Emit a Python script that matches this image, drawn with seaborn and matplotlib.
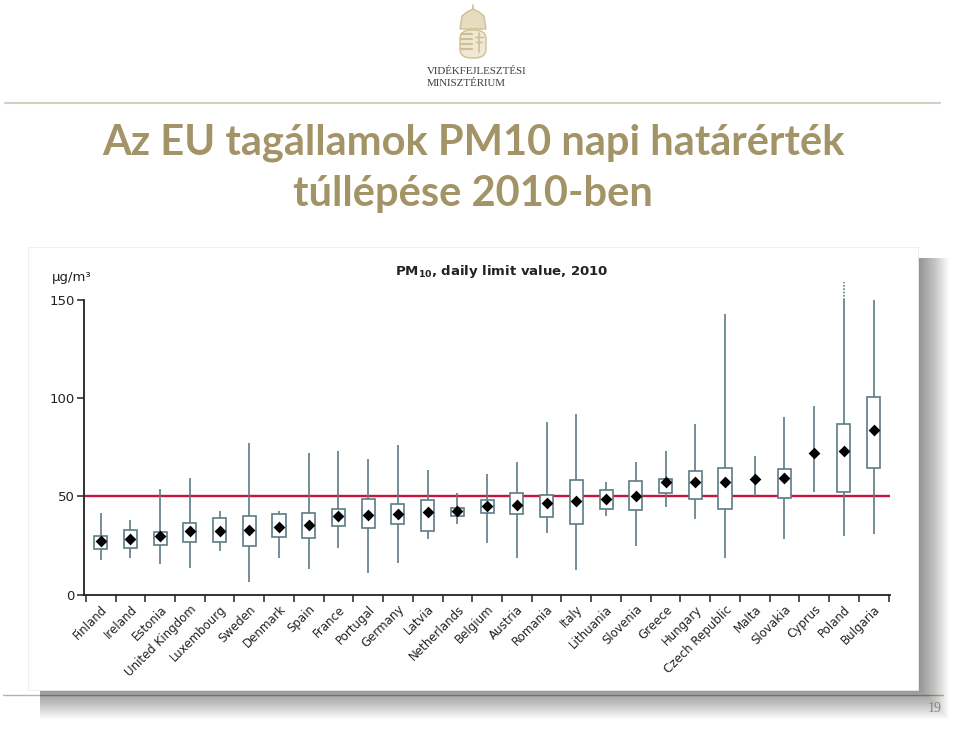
import matplotlib
matplotlib.use("Agg")
import matplotlib.pyplot as plt
import matplotlib.patches as mpatches
from matplotlib.lines import Line2D
import numpy as np
import pandas as pd
import seaborn as sns

# PM10 daily values 2010 per member state
countries = [
    "Finland", "Ireland", "Estonia", "United Kingdom", "Luxembourg", "Sweden",
    "Denmark", "Spain", "France", "Portugal", "Germany", "Latvia", "Netherlands",
    "Belgium", "Austria", "Romania", "Italy", "Lithuania", "Slovenia", "Greece",
    "Hungary", "Czech Republic", "Malta", "Slovakia", "Cyprus", "Poland", "Bulgaria",
]
low = [17.5, 18.6, 15.3, 13.6, 22.0, 6.4, 18.6, 13.0, 23.4, 10.7, 15.8, 28.0, 35.6,
       26.3, 18.6, 31.4, 12.7, 39.8, 24.9, 44.6, 38.5, 18.6, 50.3, 28.0, 52.2, 29.7, 30.8]
q1 = [23.2, 23.7, 25.4, 26.6, 26.6, 24.9, 29.3, 28.8, 34.7, 33.7, 35.9, 32.5, 39.8,
      41.5, 40.7, 39.5, 35.9, 43.6, 43.2, 51.4, 48.6, 43.6, 58.5, 49.2, 72.0, 52.2, 64.4]
mean = [27.1, 28.0, 30.0, 32.2, 32.5, 33.0, 34.4, 35.3, 39.8, 40.3, 41.0, 42.0, 42.4,
        44.9, 45.4, 46.3, 47.8, 48.6, 50.0, 57.1, 57.1, 57.3, 58.5, 59.0, 72.0, 72.9, 83.4]
q3 = [30.0, 32.7, 31.9, 36.4, 38.8, 39.8, 41.0, 41.5, 43.6, 48.6, 45.8, 48.1, 44.2,
      48.3, 51.7, 50.8, 58.1, 53.0, 57.6, 58.5, 63.0, 64.4, 58.5, 63.6, 72.0, 86.9, 100.5]
high = [41.5, 38.1, 53.4, 59.3, 42.7, 77.1, 42.7, 72.0, 73.2, 69.0, 75.9, 63.2, 51.7,
        61.5, 67.3, 87.6, 92.0, 57.1, 67.3, 73.2, 86.9, 142.7, 70.3, 90.3, 96.1, 159.0, 150.0]
no_box = ["Malta", "Cyprus"]
limit_value = 50
y_ticks = [0, 50, 100, 150]
y_axis_top = 150

W, H = 960, 729
GOLD = "#a39468"
LINE = "#5d7c84"
RED = "#c8143c"


def fx(x):
    return x / W


def fy(y):
    return 1 - y / H


def draw_slide(fig):
    """Slide decoration: rules, crest, ministry name, title, frame with shadow."""
    fig.add_artist(Line2D([fx(5), fx(940)], [fy(103), fy(103)], color="#d2cec2", lw=1.5))
    fig.add_artist(Line2D([fx(3), fx(943)], [fy(695), fy(695)], color="#b9b3a2", lw=1.0,
                          zorder=0.05))
    fig.text(fx(935), fy(709), "19", ha="center", va="center", fontsize=10,
             family="Liberation Serif", color="#8c866f")

    # simplified coat of arms
    crest = "#cdbf95"
    shield = mpatches.FancyBboxPatch((fx(460), fy(58)), fx(26), fy(30) - fy(58),
                                     boxstyle="round,pad=0,rounding_size=0.012",
                                     transform=fig.transFigure, fc="#efe8d4", ec=crest, lw=1)
    fig.add_artist(shield)
    for k in range(4):
        yy = 34 + k * 5
        fig.add_artist(Line2D([fx(461), fx(472)], [fy(yy), fy(yy)], color=crest, lw=1.6))
    fig.add_artist(Line2D([fx(479), fx(479)], [fy(33), fy(52)], color=crest, lw=1.2))
    fig.add_artist(Line2D([fx(475), fx(483)], [fy(37), fy(37)], color=crest, lw=1.0))
    fig.add_artist(Line2D([fx(476), fx(482)], [fy(42), fy(42)], color=crest, lw=1.0))
    crown = mpatches.Polygon([(fx(460), fy(29)), (fx(462), fy(16)), (fx(467), fy(12)),
                              (fx(473), fy(9)), (fx(479), fy(12)), (fx(484), fy(16)),
                              (fx(486), fy(29))], closed=True, transform=fig.transFigure,
                             fc="#e6dcc0", ec=crest, lw=1)
    fig.add_artist(crown)
    fig.add_artist(Line2D([fx(473), fx(473)], [fy(9), fy(5)], color=crest, lw=1.2))

    fig.text(fx(427), fy(71), "VIDÉKFEJLESZTÉSI", ha="left", va="center", fontsize=7.8,
             family="Liberation Serif", color="#3c3a36")
    fig.text(fx(427), fy(83), "MINISZTÉRIUM", ha="left", va="center", fontsize=7.8,
             family="Liberation Serif", color="#3c3a36")

    fig.text(fx(473), fy(155), "Az EU tagállamok PM10 napi határérték", ha="center",
             va="baseline", fontsize=30, fontweight="bold", family="Lato", color=GOLD)
    fig.text(fx(473), fy(206), "túllépése 2010-ben", ha="center",
             va="baseline", fontsize=30, fontweight="bold", family="Lato", color=GOLD)

    # drop shadow of the pasted chart picture
    for k in range(1, 32):
        fig.add_artist(mpatches.Rectangle((fx(40), fy(688 + k)), fx(878 + k), fy(258) - fy(688 + k),
                                          transform=fig.transFigure, fc="black",
                                          alpha=0.016, lw=0, zorder=0.1))
    fig.add_artist(mpatches.Rectangle((fx(28), fy(690)), fx(890), fy(247) - fy(690),
                                      transform=fig.transFigure, fc="white",
                                      ec="#ececec", lw=0.6, zorder=0.2))


def main():
    sns.set_theme(style="ticks")
    plt.rcParams["font.family"] = ["DejaVu Sans"]

    fig = plt.figure(figsize=(W / 100, H / 100), dpi=100, facecolor="white")
    draw_slide(fig)

    ax = fig.add_axes([fx(84.3), fy(594.5), fx(890) - fx(84.3), fy(283.8) - fy(594.5)])
    ax.set_facecolor("none")
    ax.set_zorder(1)

    clipped_high = [min(h, y_axis_top) for h in high]
    rows = []
    for c, a, b, m, d, e in zip(countries, low, q1, mean, q3, clipped_high):
        for v in (a, b, m, d, e):
            rows.append({"country": c, "value": v})
    df = pd.DataFrame(rows)

    sns.boxplot(data=df, x="country", y="value", order=countries, whis=(0, 100),
                width=0.44, showcaps=False, showfliers=False, color="white",
                linecolor=LINE, linewidth=1.2,
                medianprops={"linewidth": 0, "alpha": 0}, ax=ax)
    for i, c in enumerate(countries):
        if c in no_box:
            ax.patches[i].set_visible(False)

    # dotted part of whiskers running past the axis top
    for i, h in enumerate(high):
        if h > y_axis_top:
            ax.vlines(i, y_axis_top, h, colors=LINE, linestyles=(0, (1, 1)), lw=1.2, clip_on=False)

    ax.axhline(limit_value, color=RED, lw=1.7, zorder=1.5)

    sns.stripplot(x=countries, y=mean, order=countries, marker="D", color="black",
                  size=6, jitter=False, linewidth=0, ax=ax, zorder=5)

    ax.set_xlim(-0.55, len(countries) - 0.45)
    ax.set_ylim(0, 158)
    ax.set_xlabel("")
    ax.set_ylabel("")
    sns.despine(ax=ax)
    ax.spines["left"].set_bounds(0, y_axis_top)
    for s in ("left", "bottom"):
        ax.spines[s].set_color("#222222")
        ax.spines[s].set_linewidth(1.3)

    ax.set_yticks(y_ticks)
    ax.set_yticklabels([str(t) for t in y_ticks], fontsize=9.5, color="#222222")
    ax.tick_params(axis="y", length=5, width=1.1, color="#222222", pad=2)

    ax.set_xticks(range(len(countries)))
    ax.set_xticklabels(countries, rotation=45, ha="right", rotation_mode="anchor",
                       fontsize=8.5, color="#222222")
    ax.tick_params(axis="x", which="major", length=0, pad=6)
    ax.set_xticks(np.arange(-0.5, len(countries)), minor=True)
    ax.tick_params(axis="x", which="minor", length=5, width=1.1, color="#222222")

    fig.text(fx(52), fy(278), "µg/m³", ha="left", va="center", fontsize=9.5,
             color="#222222", zorder=2)
    fig.text(fx(502), fy(272), r"$\mathbf{PM_{10}}$, daily limit value, 2010", ha="center",
             va="center", fontsize=9.5, fontweight="bold", color="#222222", zorder=2)

    fig.savefig("out.png", dpi=100, facecolor="white")
    plt.close(fig)


if __name__ == "__main__":
    main()
